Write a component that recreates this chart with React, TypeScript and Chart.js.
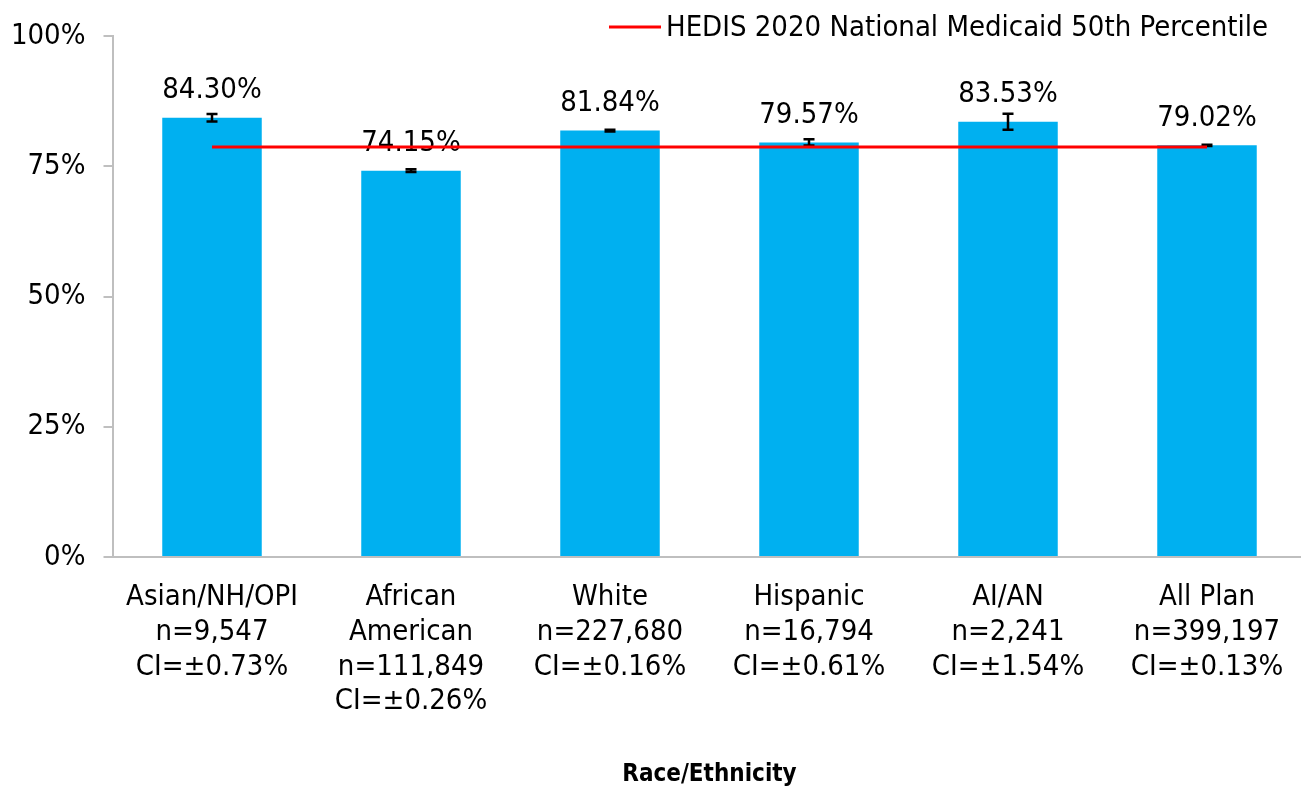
import React, { useEffect, useRef } from "react";
import { Chart, registerables } from "chart.js";

Chart.register(...registerables);

const groupNames: string[][] = [
  ["Asian/NH/OPI"],
  ["African", "American"],
  ["White"],
  ["Hispanic"],
  ["AI/AN"],
  ["All Plan"],
];
const sampleSizes: number[] = [9547, 111849, 227680, 16794, 2241, 399197];
const ciValues: number[] = [0.73, 0.26, 0.16, 0.61, 1.54, 0.13];
const rates: number[] = [84.3, 74.15, 81.84, 79.57, 83.53, 79.02];
const benchmarkValue = 78.7;
const benchmarkLabel = "HEDIS 2020 National Medicaid 50th Percentile";
const yTicks: number[] = [0, 25, 50, 75, 100];
const axisTitle = "Race/Ethnicity";

const FONT = "'DejaVu Sans Condensed', 'DejaVu Sans', sans-serif";
const FS = 29;

const categoryLabels = groupNames.map((g, i) => [
  ...g,
  "n=" + sampleSizes[i].toLocaleString("en-US"),
  "CI=±" + ciValues[i].toFixed(2) + "%",
]);

const barExtras = {
  id: "barExtras",
  afterDatasetDraw(chart: any, args: any) {
    if (args.index !== 1) return;
    const ctx = chart.ctx;
    const y = chart.scales.y;
    const meta = args.meta;
    ctx.save();
    meta.data.forEach((bar: any, i: number) => {
      const v = rates[i];
      const ci = ciValues[i];
      const x = bar.x;
      const yt = y.getPixelForValue(v + ci);
      const yb = y.getPixelForValue(v - ci);
      ctx.strokeStyle = "#000";
      ctx.lineWidth = 2.5;
      ctx.beginPath();
      ctx.moveTo(x, yt);
      ctx.lineTo(x, yb);
      ctx.moveTo(x - 5.5, yt);
      ctx.lineTo(x + 5.5, yt);
      ctx.moveTo(x - 5.5, yb);
      ctx.lineTo(x + 5.5, yb);
      ctx.stroke();
      ctx.fillStyle = "#000";
      ctx.font = `${FS}px ${FONT}`;
      ctx.textAlign = "center";
      ctx.textBaseline = "middle";
      ctx.fillText(v.toFixed(2) + "%", x, y.getPixelForValue(v) - 27);
    });
    ctx.restore();
  },
  afterDraw(chart: any) {
    const ctx = chart.ctx;
    ctx.save();
    ctx.strokeStyle = "#FF0000";
    ctx.lineWidth = 3;
    ctx.beginPath();
    ctx.moveTo(609, 27);
    ctx.lineTo(661, 27);
    ctx.stroke();
    ctx.fillStyle = "#000";
    ctx.font = `${FS}px ${FONT}`;
    ctx.textAlign = "left";
    ctx.textBaseline = "middle";
    ctx.fillText(benchmarkLabel, 666, 28);
    ctx.restore();
  },
};

export default function App() {
  const ref = useRef<HTMLCanvasElement>(null);
  useEffect(() => {
    if (!ref.current) return;
    const chart = new Chart(ref.current, {
      type: "bar",
      data: {
        labels: categoryLabels,
        datasets: [
          {
            type: "line",
            label: benchmarkLabel,
            data: rates.map(() => benchmarkValue),
            borderColor: "#FF0000",
            borderWidth: 3,
            pointRadius: 0,
            fill: false,
          } as any,
          {
            type: "bar",
            label: "Rate",
            data: rates,
            backgroundColor: "#00B0F0",
            categoryPercentage: 1,
            barPercentage: 0.5,
          },
        ],
      },
      options: {
        responsive: false,
        animation: false,
        layout: { padding: { top: 36, left: 0, right: 3.5, bottom: 0 } },
        plugins: {
          legend: { display: false },
          tooltip: { enabled: false },
        },
        scales: {
          x: {
            grid: { display: false, drawTicks: false },
            border: { display: true, color: "#BFBFBF", width: 2 },
            ticks: {
              color: "#000",
              font: { family: FONT, size: FS },
              padding: 23,
              maxRotation: 0,
              autoSkip: false,
            },
            title: {
              display: true,
              text: axisTitle,
              color: "#000",
              font: { family: FONT, size: 24, weight: "bold" },
              padding: { top: 18, bottom: 2 },
            },
          },
          y: {
            min: 0,
            max: 100,
            afterBuildTicks: (s: any) => {
              s.ticks = yTicks.map((v) => ({ value: v }));
            },
            afterFit: (s: any) => {
              s.width = 112.5;
            },
            grid: {
              drawOnChartArea: false,
              drawTicks: true,
              tickLength: 9,
              color: "#BFBFBF",
              lineWidth: 2,
            },
            border: { display: true, color: "#BFBFBF", width: 2 },
            ticks: {
              color: "#000",
              font: { family: FONT, size: FS },
              padding: 18,
              callback: (v: any) => v + "%",
            },
          },
        },
      },
      plugins: [barExtras],
    });
    return () => chart.destroy();
  }, []);
  return (
    <div style={{ position: "fixed", left: 0, top: 0, width: 1301, height: 791, overflow: "hidden", background: "#fff" }}>
      <canvas ref={ref} width={1310} height={791} />
    </div>
  );
}
